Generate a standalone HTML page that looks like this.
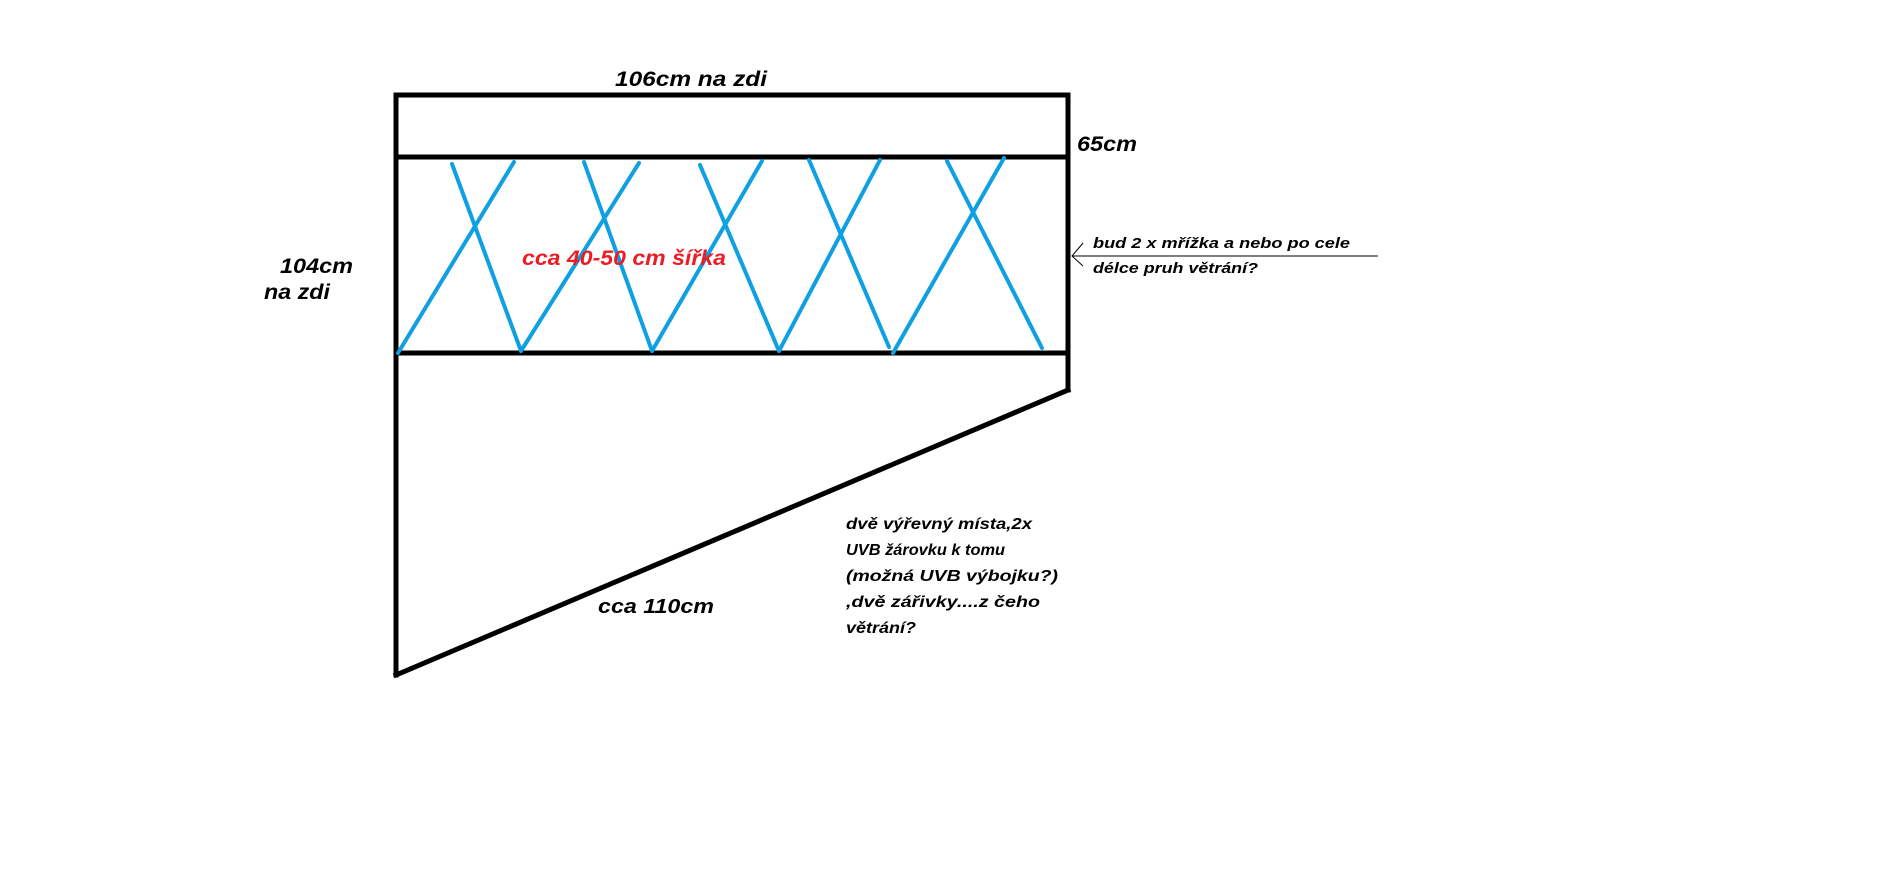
<!DOCTYPE html>
<html><head><meta charset="utf-8"><style>
html,body{margin:0;padding:0;background:#fff;}
svg text{font-family:"Liberation Sans","DejaVu Sans",sans-serif;font-style:italic;font-weight:bold;}
</style></head><body>
<svg width="1903" height="866" viewBox="0 0 1903 866" xmlns="http://www.w3.org/2000/svg">
<g stroke="#000" stroke-width="5" fill="none" stroke-linecap="square">
<line x1="396" y1="95" x2="1068" y2="95"/>
<line x1="396" y1="157" x2="1068" y2="157"/>
<line x1="396" y1="353" x2="1068" y2="353"/>
<line x1="396" y1="95" x2="396" y2="675"/>
<line x1="1068" y1="95" x2="1068" y2="390"/>
<line x1="396" y1="675" x2="1068" y2="390"/>
</g>
<g stroke="#0ea0e2" stroke-width="4" fill="none" stroke-linecap="round">
<line x1="398" y1="353" x2="514" y2="162"/>
<line x1="452" y1="164" x2="521" y2="351"/>
<line x1="521" y1="351" x2="639" y2="163"/>
<line x1="584" y1="162" x2="652" y2="351"/>
<line x1="652" y1="351" x2="762" y2="161"/>
<line x1="700" y1="165" x2="779" y2="351"/>
<line x1="779" y1="351" x2="880" y2="160"/>
<line x1="809" y1="160" x2="889" y2="347"/>
<line x1="893" y1="353" x2="1004" y2="158"/>
<line x1="947" y1="161" x2="1042" y2="348"/>
</g>
<g stroke="#000" stroke-width="1" fill="none">
<line x1="1072" y1="256" x2="1378" y2="256"/>
<polyline points="1083,243 1072,256 1083,266"/>
</g>
<text x="615" y="86" font-size="21" textLength="152" lengthAdjust="spacingAndGlyphs">106cm na zdi</text>
<text x="1077" y="151" font-size="21" textLength="60" lengthAdjust="spacingAndGlyphs">65cm</text>
<text x="280" y="273" font-size="21" textLength="73" lengthAdjust="spacingAndGlyphs">104cm</text>
<text x="264" y="299" font-size="21" textLength="66" lengthAdjust="spacingAndGlyphs">na zdi</text>
<text x="522" y="265" font-size="21" fill="#ed1c24" textLength="204" lengthAdjust="spacingAndGlyphs">cca 40-50 cm šířka</text>
<text x="598" y="613" font-size="20" textLength="116" lengthAdjust="spacingAndGlyphs">cca 110cm</text>
<text x="1093" y="248" font-size="15" textLength="257" lengthAdjust="spacingAndGlyphs">bud 2 x mřížka a nebo po cele</text>
<text x="1093" y="273" font-size="15" textLength="165" lengthAdjust="spacingAndGlyphs">délce pruh větrání?</text>
<g font-size="16">
<text x="846" y="529" textLength="186" lengthAdjust="spacingAndGlyphs">dvě výřevný místa,2x</text>
<text x="846" y="555" textLength="159" lengthAdjust="spacingAndGlyphs">UVB žárovku k tomu</text>
<text x="846" y="581" textLength="212" lengthAdjust="spacingAndGlyphs">(možná UVB výbojku?)</text>
<text x="846" y="607" textLength="194" lengthAdjust="spacingAndGlyphs">,dvě zářivky....z čeho</text>
<text x="846" y="633" textLength="70" lengthAdjust="spacingAndGlyphs">větrání?</text>
</g>
</svg>
</body></html>
